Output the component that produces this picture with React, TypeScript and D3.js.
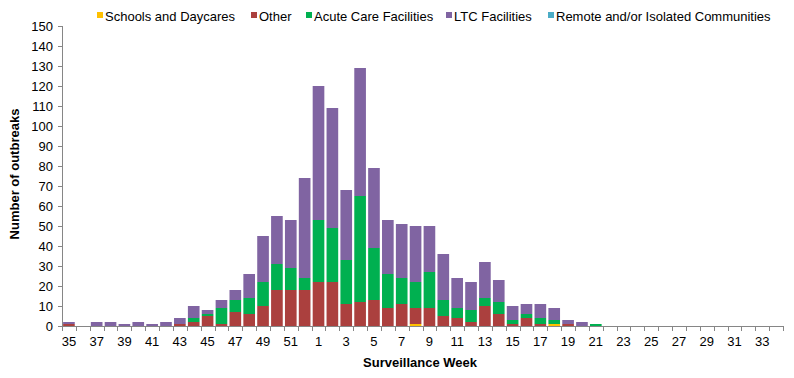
import React from "react";
import * as d3 from "d3";

const weeks: string[] = [
  ...d3.range(35, 53).map(String),
  ...d3.range(1, 35).map(String),
];

// values per week, in order 35..52, 1..34
const schools = [0,0,0,0,0,0,0,0,0,0,0,0,0,0,0,0,0,0, 0,0,0,0,0,0,0,1,0,0,0,0,0,0,0,0,0,1,0,0,0,0,0,0,0,0,0,0,0,0,0,0,0,0];
const other =   [1,0,0,0,0,0,0,0,1,2,5,1,7,6,10,18,18,18, 22,22,11,12,13,9,11,8,9,5,4,2,10,6,1,4,1,0,1,0,0,0,0,0,0,0,0,0,0,0,0,0,0,0];
const acute =   [0,0,0,0,0,0,0,0,0,2,1,8,6,8,12,13,11,6, 31,27,22,53,26,17,13,13,18,8,5,6,4,6,2,2,3,2,0,0,1,0,0,0,0,0,0,0,0,0,0,0,0,0];
const ltc =     [1,0,2,2,1,2,1,2,3,6,2,4,5,12,23,24,24,50, 67,60,35,64,40,27,27,28,23,23,15,14,18,11,7,5,7,6,2,2,0,0,0,0,0,0,0,0,0,0,0,0,0,0];
const remote =  weeks.map(() => 0);

const seriesNames = ["Schools and Daycares", "Other", "Acute Care Facilities", "LTC Facilities", "Remote and/or Isolated Communities"];
const seriesColors = ["#FFC000", "#AB403E", "#00B050", "#8064A2", "#4BACC6"];
const yTicks = d3.range(0, 151, 10);

export default function App() {
  const W = 794, H = 378;
  const left = 62, right = 783, top = 26, bottom = 326;
  const x = d3.scaleBand<string>().domain(weeks).range([left, right]).paddingInner(0.16).paddingOuter(0.08);
  const y = d3.scaleLinear().domain([0, 150]).range([bottom, top]);
  const step = (right - left) / weeks.length;

  const table = weeks.map((w, i) => ({
    week: w,
    s0: schools[i], s1: other[i], s2: acute[i], s3: ltc[i], s4: remote[i],
  }));
  const stack = d3.stack<any>().keys(["s0", "s1", "s2", "s3", "s4"])(table);

  const font = "Arial, 'Liberation Sans', sans-serif";
  const axisColor = "#868686";

  const legendX = [97, 251, 306, 446, 548];

  return (
    <svg width={W} height={H} style={{ position: "absolute", left: 0, top: 0, background: "#fff" }} fontFamily={font}>
      {/* bars */}
      {stack.map((layer, li) => (
        <g key={li} fill={seriesColors[li]}>
          {layer.map((d, i) => {
            const h = y(d[0]) - y(d[1]);
            if (h <= 0) return null;
            return <rect key={i} x={x(weeks[i])!} y={y(d[1])} width={x.bandwidth()} height={h} />;
          })}
        </g>
      ))}
      {/* y axis */}
      <line x1={left + 0.5} x2={left + 0.5} y1={top} y2={bottom} stroke={axisColor} />
      {yTicks.map((t) => (
        <g key={t}>
          <line x1={left - 4} x2={left} y1={Math.round(y(t)) + 0.5} y2={Math.round(y(t)) + 0.5} stroke={axisColor} />
          <text x={left - 9} y={y(t)} dy="0.35em" textAnchor="end" fontSize={13} fill="#000">{t}</text>
        </g>
      ))}
      {/* x axis */}
      <line x1={left} x2={right} y1={bottom + 0.5} y2={bottom + 0.5} stroke={axisColor} />
      {d3.range(0, weeks.length + 1).map((i) => (
        <line key={i} x1={Math.round(left + i * step) + 0.5} x2={Math.round(left + i * step) + 0.5} y1={bottom} y2={bottom + 5} stroke={axisColor} />
      ))}
      {weeks.map((w, i) => (i % 2 === 0 ? (
        <text key={w} x={left + (i + 0.5) * step} y={346} textAnchor="middle" fontSize={13} fill="#000">{w}</text>
      ) : null))}
      <text x={420} y={367} textAnchor="middle" fontSize={13} fontWeight="bold" fill="#000">Surveillance Week</text>
      <text transform={`translate(19,${174}) rotate(-90)`} textAnchor="middle" fontSize={13} fontWeight="bold" fill="#000">Number of outbreaks</text>
      {/* legend */}
      {seriesNames.map((n, i) => (
        <g key={n}>
          <rect x={legendX[i]} y={12} width={6} height={6} fill={seriesColors[i]} />
          <text x={legendX[i] + 8} y={20.5} fontSize={13} fill="#000">{n}</text>
        </g>
      ))}
    </svg>
  );
}
